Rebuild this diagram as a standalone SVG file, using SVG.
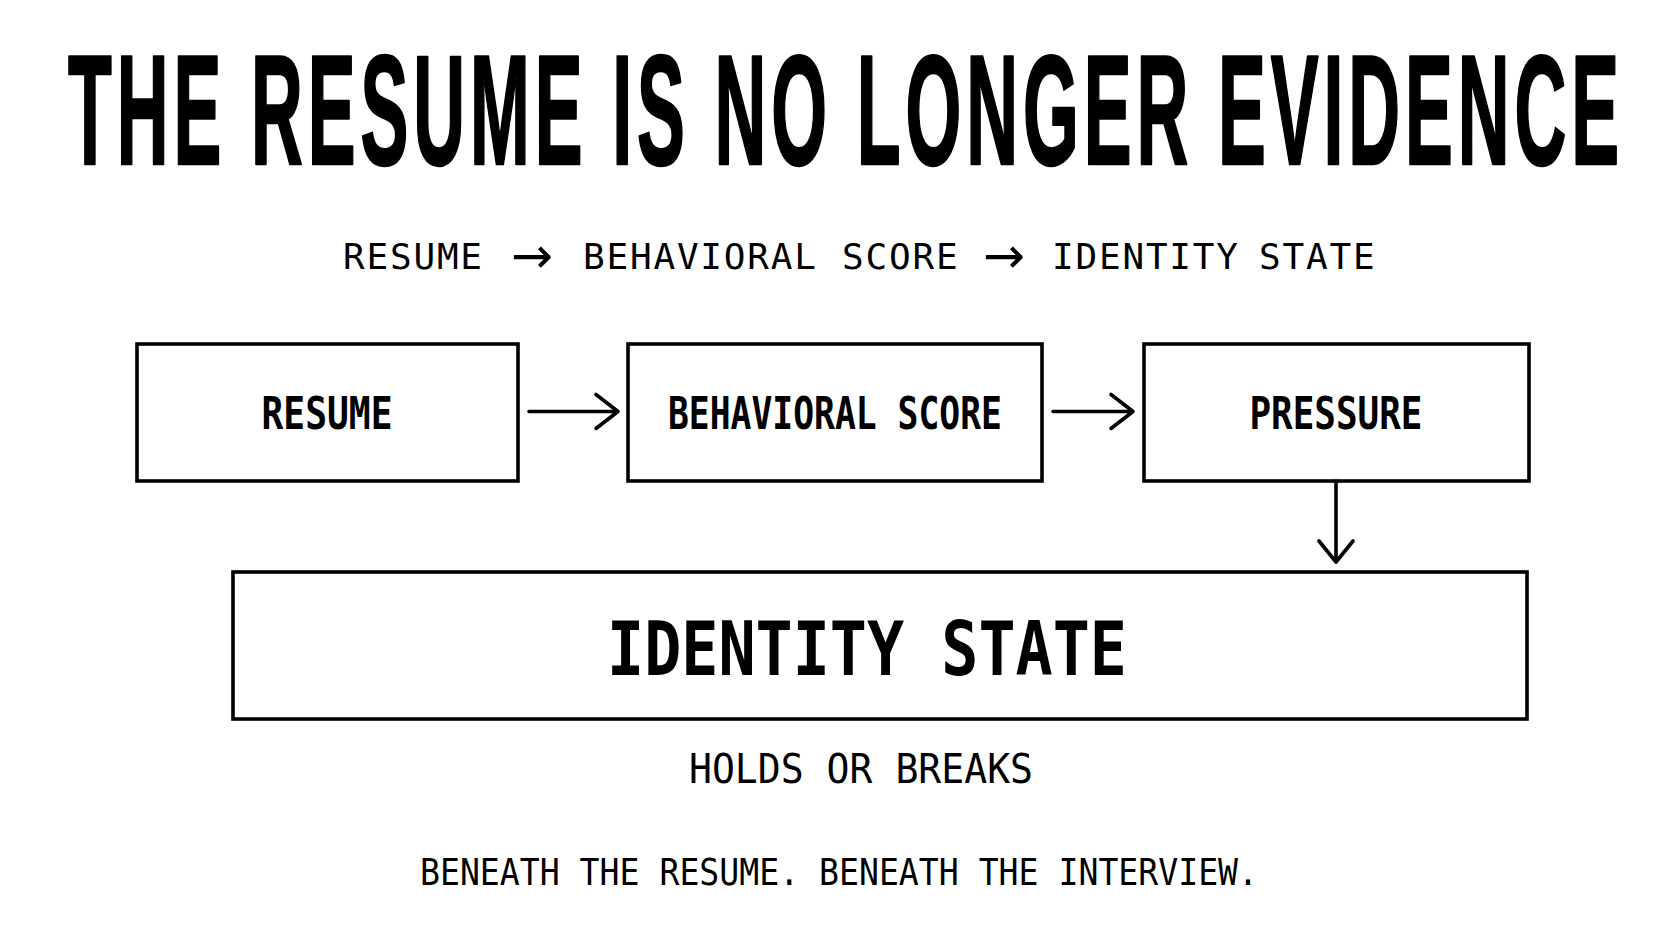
<svg xmlns="http://www.w3.org/2000/svg" width="1672" height="941" viewBox="0 0 1672 941">
<style>
.bg{fill:#ffffff}
.box{fill:#ffffff;stroke:#000;stroke-width:3.6}
.title{font-family:"Liberation Sans","DejaVu Sans",sans-serif;font-weight:bold;font-size:156px;fill:#000;stroke:#000;stroke-width:2.5;stroke-linejoin:round}
.mono{font-family:"DejaVu Sans Mono","Liberation Mono",monospace;fill:#000}
.sub{font-family:"DejaVu Sans Mono","Liberation Mono",monospace;font-size:36px;letter-spacing:1.8px;fill:#000}
.arr{font-family:"DejaVu Sans",sans-serif;font-size:50px;letter-spacing:0}
.lbl{font-family:"DejaVu Sans Mono","Liberation Mono",monospace;font-weight:bold;font-size:45px;fill:#000;text-anchor:middle}
.con{fill:none;stroke:#000;stroke-width:3.6;stroke-linecap:round;stroke-linejoin:round}
</style>
<rect class="bg" x="0" y="0" width="1672" height="941"/>
<text class="title" transform="translate(68,164) scale(0.46,1)" x="0" y="0" textLength="3372" lengthAdjust="spacing">THE RESUME IS NO LONGER EVIDENCE</text>
<text class="sub" y="269"><tspan x="343">RESUME</tspan><tspan class="arr" x="511" y="273">→</tspan><tspan x="583" y="269">BEHAVIORAL</tspan><tspan x="842">SCORE</tspan><tspan class="arr" x="983" y="273">→</tspan><tspan x="1052" y="269">IDENTITY</tspan><tspan x="1259">STATE</tspan></text>
<g id="node-resume">
<rect class="box" x="137" y="344" width="381" height="137"/>
<text class="lbl" x="327" y="429" textLength="131" lengthAdjust="spacingAndGlyphs">RESUME</text>
</g>
<g id="node-behavioral">
<rect class="box" x="628" y="344" width="414" height="137"/>
<text class="lbl" x="835" y="429" textLength="334" lengthAdjust="spacingAndGlyphs">BEHAVIORAL SCORE</text>
</g>
<g id="node-pressure">
<rect class="box" x="1144" y="344" width="385" height="137"/>
<text class="lbl" x="1336" y="429" textLength="173" lengthAdjust="spacingAndGlyphs">PRESSURE</text>
</g>
<g id="node-identity">
<rect class="box" x="233" y="572" width="1294" height="147"/>
<text class="mono" x="607" y="675" font-size="75" font-weight="bold" textLength="520" lengthAdjust="spacingAndGlyphs">IDENTITY STATE</text>
</g>
<g id="connectors">
<path class="con" d="M529 411.5 H618 M596 394.5 L618 411.5 L596 428.5"/>
<path class="con" d="M1053 411.5 H1133 M1111 394.5 L1133 411.5 L1111 428.5"/>
<path class="con" d="M1336 481 V562 M1319 541 L1336 562 L1353 541"/>
</g>
<text class="mono" x="689" y="783" font-size="40" textLength="344" lengthAdjust="spacingAndGlyphs">HOLDS OR BREAKS</text>
<text class="mono" x="420" y="885" font-size="38" textLength="838" lengthAdjust="spacingAndGlyphs">BENEATH THE RESUME. BENEATH THE INTERVIEW.</text>
</svg>
